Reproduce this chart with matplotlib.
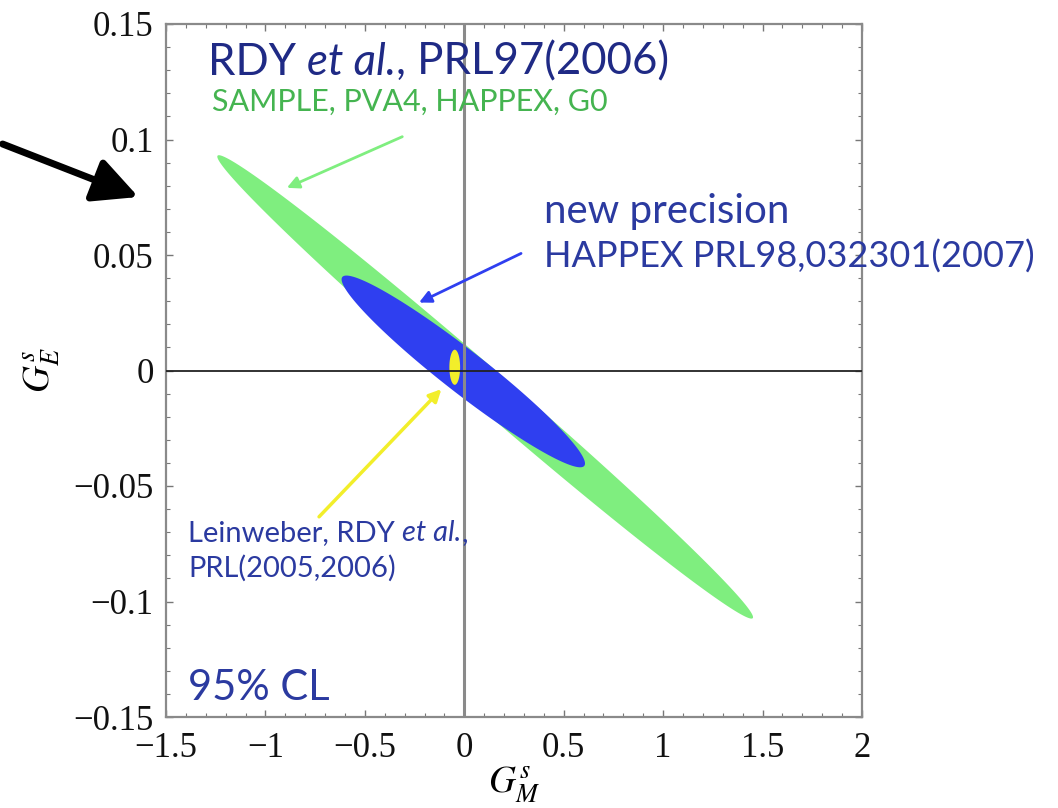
import numpy as np
import matplotlib
matplotlib.use("Agg")
import matplotlib.pyplot as plt
from matplotlib.ticker import MultipleLocator, FixedLocator, FuncFormatter
from matplotlib.offsetbox import TextArea, HPacker, AnchoredOffsetbox

# ---- data ----
ellipse_names = ["SAMPLE, PVA4, HAPPEX, G0", "HAPPEX 2007", "Leinweber lattice"]
center_x = [0.105, -0.005, -0.048]
center_y = [-0.0071, -0.0004, 0.0014]
half_x = [1.347, 0.612, 0.027]
half_y = [0.1003, 0.0415, 0.0076]
corr = [-0.994, -0.96, 0.0]
ellipse_colors = ["#7fee7f", "#2f3ff0", "#f2ee2a"]

x_ticks = [-1.5, -1, -0.5, 0, 0.5, 1, 1.5, 2]
y_ticks = [-0.15, -0.1, -0.05, 0, 0.05, 0.1, 0.15]

plt.rcParams["mathtext.fontset"] = "stix"

fig = plt.figure(figsize=(10.58, 8.08), dpi=100)
ax = fig.add_axes([166 / 1058, 1 - 717 / 808, (862 - 166) / 1058, (717 - 24) / 808])

t = np.linspace(0, 2 * np.pi, 600)
for cx, cy, hx, hy, r, c in zip(center_x, center_y, half_x, half_y, corr, ellipse_colors):
    ex = cx + hx * np.cos(t)
    ey = cy + hy * (r * np.cos(t) + np.sqrt(1 - r ** 2) * np.sin(t))
    ax.fill(ex, ey, color=c, lw=0, zorder=2)

ax.axvline(0, color="#8a8a8a", lw=2.2, zorder=3)
ax.axhline(0, color="#222222", lw=1.3, zorder=3)

ax.set_xlim(x_ticks[0], x_ticks[-1])
ax.set_ylim(y_ticks[0], y_ticks[-1])
ax.xaxis.set_major_locator(FixedLocator(x_ticks))
ax.yaxis.set_major_locator(FixedLocator(y_ticks))
ax.xaxis.set_minor_locator(MultipleLocator(0.1))
ax.yaxis.set_minor_locator(MultipleLocator(0.01))


def fmt(v, pos):
    s = ("%g" % round(v, 4))
    return s.replace("-", "\u2212")


ax.xaxis.set_major_formatter(FuncFormatter(fmt))
ax.yaxis.set_major_formatter(FuncFormatter(fmt))
ax.tick_params(which="both", direction="in", top=True, right=True, color="#777777",
               labelsize=25, labelcolor="#111111")
ax.tick_params(which="major", length=5, width=1)
ax.tick_params(which="minor", length=3, width=0.8)
for lab in ax.get_xticklabels() + ax.get_yticklabels():
    lab.set_fontfamily("Liberation Serif")
ax.tick_params(axis="x", pad=11)
ax.tick_params(axis="y", pad=9)
for s in ax.spines.values():
    s.set_color("#8a8a8a")
    s.set_linewidth(1.6)

ax.set_xlabel(r"$G_M^s$", fontsize=27, labelpad=0)
ax.set_ylabel(r"$G_E^s$", fontsize=27, labelpad=8)

dark = "#1f2a85"
mid = "#2b3aa0"
green = "#45b450"
sans = "Lato"

parts = [("RDY ", "normal"), ("et al.", "italic"), (", PRL97(2006)", "normal")]
boxes = [TextArea(s, textprops=dict(fontsize=31.5, color=dark, family=sans, style=st)) for s, st in parts]
hp = HPacker(children=boxes, align="baseline", pad=0, sep=0)
ab = AnchoredOffsetbox(loc="center left", child=hp, pad=0, frameon=False,
                       bbox_to_anchor=(-1.29, 0.1335), bbox_transform=ax.transData, borderpad=0)
ax.add_artist(ab)

ax.text(-1.27, 0.1165, "SAMPLE, PVA4, HAPPEX, G0", fontsize=22, color=green, family=sans,
        va="center", ha="left")

ax.text(0.4, 0.069, "new precision", fontsize=29, color=mid, family=sans, va="center", ha="left")
ax.text(0.4, 0.0495, "HAPPEX PRL98,032301(2007)", fontsize=26, color=mid, family=sans,
        va="center", ha="left", clip_on=False)

parts2 = [("Leinweber, RDY ", "normal"), ("et al.", "italic"), (",", "normal")]
boxes2 = [TextArea(s, textprops=dict(fontsize=21, color=mid, family=sans, style=st)) for s, st in parts2]
hp2 = HPacker(children=boxes2, align="baseline", pad=0, sep=0)
ab2 = AnchoredOffsetbox(loc="center left", child=hp2, pad=0, frameon=False,
                        bbox_to_anchor=(-1.39, -0.0705), bbox_transform=ax.transData, borderpad=0)
ax.add_artist(ab2)
ax.text(-1.385, -0.0855, "PRL(2005,2006)", fontsize=21, color=mid, family=sans, va="center", ha="left")

ax.text(-1.39, -0.1375, "95% CL", fontsize=30, color=mid, family=sans, va="center", ha="left")

# arrows
ax.annotate("", xy=(-0.905, 0.0786), xytext=(-0.299, 0.1017),
            arrowprops=dict(arrowstyle="-|>", color="#7fee7f", lw=2, mutation_scale=18), zorder=4)
ax.annotate("", xy=(-0.240, 0.0289), xytext=(0.298, 0.0512),
            arrowprops=dict(arrowstyle="-|>", color="#2f3ff0", lw=2, mutation_scale=18), zorder=4)
ax.annotate("", xy=(-0.1055, -0.0072), xytext=(-0.740, -0.0642),
            arrowprops=dict(arrowstyle="-|>", color="#f2ee2a", lw=2.5, mutation_scale=18), zorder=4)

fig.patches.append(matplotlib.patches.FancyArrowPatch(
    (0.0, 1 - 143 / 808), (141 / 1058, 1 - 198 / 808), transform=fig.transFigure,
    arrowstyle="-|>,head_length=0.6,head_width=0.3", color="black", lw=5, mutation_scale=45))

fig.savefig("out.png", dpi=100)
